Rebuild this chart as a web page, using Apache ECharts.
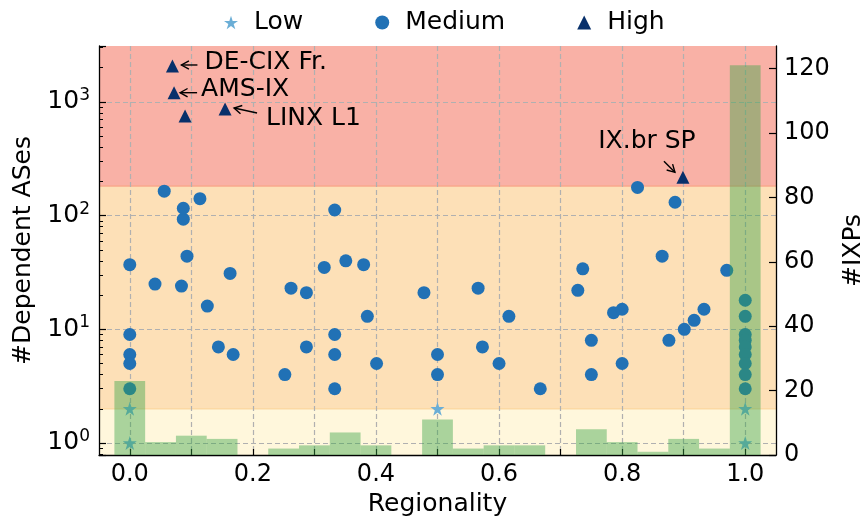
<!DOCTYPE html>
<html><head><meta charset="utf-8">
<script src="https://cdn.jsdelivr.net/npm/echarts@6/dist/echarts.min.js"></script>
<style>html,body{margin:0;padding:0;background:#fff}#c{width:866px;height:522px}</style>
</head><body><div id="c"></div>
<script>
// ---- data ----
const lowX = [0, 0, 0.5, 1, 1];
const lowY = [2, 1, 2, 2, 1];
const medX = [0, 0, 0, 0, 0,
  0.041, 0.056, 0.084, 0.087, 0.087, 0.093, 0.114, 0.126, 0.144, 0.163,
  0.168, 0.252, 0.262, 0.287, 0.287, 0.316, 0.333, 0.333, 0.333, 0.333,
  0.351, 0.380, 0.386, 0.401, 0.478, 0.5, 0.5, 0.566, 0.573, 0.600,
  0.616, 0.667, 0.728, 0.736, 0.75, 0.75, 0.786, 0.8, 0.8, 0.825,
  0.865, 0.876, 0.886, 0.901, 0.917, 0.933, 0.970,
  1, 1, 1, 1, 1, 1, 1, 1, 1];
const medY = [37, 9, 6, 5, 3,
  25, 164, 24, 93, 116, 44, 141, 16, 7, 31,
  6, 4, 23, 21, 7, 35, 112, 9, 6, 3,
  40, 37, 13, 5, 21, 6, 4, 23, 7, 5,
  13, 3, 22, 34, 8, 4, 14, 15, 5, 177,
  44, 8, 131, 10, 12, 15, 33,
  18, 13, 9, 8, 7, 6, 5, 4, 3];
const highX = [0.0693, 0.072, 0.0898, 0.1548, 0.8988];
const highY = [2070, 1205, 752, 866, 217];
const highNames = ['DE-CIX Fr.', 'AMS-IX', '', 'LINX L1', 'IX.br SP'];
const binCenters = [0, 0.05, 0.1, 0.15, 0.2, 0.25, 0.3, 0.35, 0.4, 0.45, 0.5,
  0.55, 0.6, 0.65, 0.7, 0.75, 0.8, 0.85, 0.9, 0.95, 1.0];
const binCounts = [23, 4, 6, 5, 0, 2, 3, 7, 3, 0, 11, 2, 3, 3, 0, 8, 4, 1, 5, 2, 121];
const bandEdges = [2, 182];          // Low | Medium | High thresholds
const xLimits = [-0.05, 1.05];
const yLimits = [0.784, 3103];
const y2Limits = [0, 127];
const y2TickStep = 20;

// ---- styles ----
const FONT = 'DejaVu Sans';
const C_LOW = '#6baed6', C_MED = '#2171b5', C_HIGH = '#08306b';
const BAND_COLORS = ['#fff7dc', '#fde0b7', '#f9b1a6'];
const BAR_COLOR = 'rgba(58,164,72,0.43)';
const STAR = 'path://M0,-1 L0.2245,-0.309 L0.951,-0.309 L0.363,0.118 L0.588,0.809 L0,0.382 L-0.588,0.809 L-0.363,0.118 L-0.951,-0.309 L-0.2245,-0.309 Z';
const ANNOT = {
  'DE-CIX Fr.': {t: [32, -3], align: 'left', a0: [25, -1], a1: [9, -1]},
  'AMS-IX':     {t: [27, -3], align: 'left', a0: [23, 0], a1: [6, 0]},
  'LINX L1':    {t: [41, 9.5], align: 'left', a0: [32, 4], a1: [9, -1]},
  'IX.br SP':   {t: [-36, -36], align: 'center', a0: [-19, -16], a1: [-8, -5]}
};

const zip = (xs, ys) => xs.map((x, i) => [x, ys[i]]);
const annotData = highX.map((x, i) => [x, highY[i], i]).filter(d => highNames[d[2]]);

const chart = echarts.init(document.getElementById('c'));

chart.setOption({
  animation: false,
  textStyle: {fontFamily: FONT},
  legend: {
    left: 219, top: 5,
    itemWidth: 14, itemHeight: 14, itemGap: 72,
    textStyle: {fontSize: 25, color: '#000', fontFamily: FONT, padding: [0, 0, 0, 11]},
    data: [{name: 'Low', icon: STAR}, {name: 'Medium', icon: 'circle'}, {name: 'High', icon: 'triangle'}]
  },
  grid: {left: 99, right: 90, top: 46, bottom: 67, outerBoundsMode: 'none', containLabel: false},
  xAxis: {
    type: 'value', min: xLimits[0], max: xLimits[1], splitNumber: 11, z: 1,
    name: 'Regionality', nameLocation: 'middle', nameGap: 34,
    nameTextStyle: {fontSize: 25, color: '#000', fontFamily: FONT},
    axisLine: {onZero: false, lineStyle: {color: '#000', width: 1.3}},
    axisTick: {inside: true, length: 6, lineStyle: {color: '#000', width: 1.2}},
    axisLabel: {
      fontSize: 24, color: '#000', margin: 8, fontFamily: FONT,
      showMinLabel: false, showMaxLabel: false,
      formatter: v => {
        const k = Math.round(v * 10);
        if (Math.abs(v * 10 - k) > 1e-6 || k % 2 !== 0) return '';
        return v.toFixed(1);
      }
    },
    splitLine: {show: true, showMinLine: false, showMaxLine: false,
      lineStyle: {color: '#b0b0b0', type: [5, 3], width: 1.2}}
  },
  yAxis: [{
    type: 'log', logBase: 10, min: yLimits[0], max: yLimits[1], z: 1,
    name: '#Dependent ASes', nameLocation: 'middle', nameGap: 58,
    nameTextStyle: {fontSize: 25, color: '#000', fontFamily: FONT},
    axisLine: {show: true, onZero: false, lineStyle: {color: '#000', width: 1.3}},
    axisTick: {show: true, inside: true, length: 7, lineStyle: {color: '#000', width: 1.2}},
    minorTick: {show: true, splitNumber: 9, length: 4, lineStyle: {color: '#000', width: 1}},
    axisLabel: {
      margin: 9, color: '#000',
      formatter: v => {
        const e = Math.log10(v), r = Math.round(e);
        if (Math.abs(e - r) > 1e-6) return '';
        return '{b|10}{s|' + r + '}';
      },
      rich: {
        b: {fontSize: 25, fontFamily: FONT, color: '#000', lineHeight: 30},
        s: {fontSize: 17, fontFamily: FONT, color: '#000', verticalAlign: 'top', lineHeight: 20}
      }
    },
    splitLine: {show: true, showMinLine: false, showMaxLine: false,
      lineStyle: {color: '#b0b0b0', type: [5, 3], width: 1.2}}
  }, {
    type: 'value', min: y2Limits[0], max: y2Limits[1], interval: y2TickStep, z: 1,
    position: 'right',
    name: '#IXPs', nameLocation: 'middle', nameGap: 58,
    nameTextStyle: {fontSize: 25, color: '#000', fontFamily: FONT},
    axisLine: {show: true, onZero: false, lineStyle: {color: '#000', width: 1.3}},
    axisTick: {show: true, inside: true, length: 7, lineStyle: {color: '#000', width: 1.2}},
    axisLabel: {fontSize: 24, color: '#000', margin: 8, fontFamily: FONT, showMaxLabel: false,
      formatter: v => (v % y2TickStep === 0 ? String(v) : '')},
    splitLine: {show: false}
  }],
  series: [
    { // background bands
      type: 'custom', name: 'bands', z: 0, silent: true,
      xAxisIndex: 0, yAxisIndex: 0,
      data: [[0]],
      renderItem: (params, api) => {
        const cs = params.coordSys;
        const y1 = api.coord([0, bandEdges[0]])[1];
        const y2 = api.coord([0, bandEdges[1]])[1];
        const bot = cs.y + cs.height, top = cs.y;
        return {type: 'group', children: [
          {type: 'rect', shape: {x: cs.x, y: y1, width: cs.width, height: bot - y1}, style: {fill: BAND_COLORS[0]}},
          {type: 'rect', shape: {x: cs.x, y: y2, width: cs.width, height: y1 - y2}, style: {fill: BAND_COLORS[1]}},
          {type: 'rect', shape: {x: cs.x, y: top, width: cs.width, height: y2 - top}, style: {fill: BAND_COLORS[2]}},
          {type: 'line', shape: {x1: cs.x, y1: y1, x2: cs.x + cs.width, y2: y1}, style: {stroke: '#fcd9a4', lineWidth: 1.5}},
          {type: 'line', shape: {x1: cs.x, y1: y2, x2: cs.x + cs.width, y2: y2}, style: {stroke: '#f9a88c', lineWidth: 1.5}}
        ]};
      }
    },
    {type: 'scatter', name: 'Low', data: zip(lowX, lowY), symbol: STAR, symbolSize: 14,
      itemStyle: {color: C_LOW, opacity: 1}, z: 2},
    {type: 'scatter', name: 'Medium', data: zip(medX, medY), symbol: 'circle', symbolSize: 13,
      itemStyle: {color: C_MED, opacity: 1}, z: 2},
    {type: 'scatter', name: 'High', data: zip(highX, highY), symbol: 'triangle', symbolSize: 13,
      itemStyle: {color: C_HIGH, opacity: 1}, z: 2},
    { // histogram of IXPs on right axis
      type: 'custom', name: 'hist', z: 3, silent: true,
      xAxisIndex: 0, yAxisIndex: 1,
      data: zip(binCenters, binCounts),
      encode: {x: 0, y: 1},
      renderItem: (params, api) => {
        const c = api.value(0), n = api.value(1);
        if (!n) return null;
        const w = binCenters[1] - binCenters[0];
        const p0 = api.coord([c - w / 2, n]);
        const p1 = api.coord([c + w / 2, 0]);
        return {type: 'rect', shape: {x: p0[0], y: p0[1], width: p1[0] - p0[0], height: p1[1] - p0[1]},
          style: {fill: BAR_COLOR}};
      }
    },
    { // annotations
      type: 'custom', name: 'annot', z: 4, silent: true,
      xAxisIndex: 0, yAxisIndex: 0,
      data: annotData,
      encode: {x: 0, y: 1},
      renderItem: (params, api) => {
        const p = api.coord([api.value(0), api.value(1)]);
        const name = highNames[api.value(2)];
        const o = ANNOT[name];
        const ax0 = p[0] + o.a0[0], ay0 = p[1] + o.a0[1];
        const ax1 = p[0] + o.a1[0], ay1 = p[1] + o.a1[1];
        const dx = ax1 - ax0, dy = ay1 - ay0, L = Math.hypot(dx, dy);
        const ux = dx / L, uy = dy / L, hl = 7.5, hw = 4.2;
        const bx = ax1 - ux * hl, by = ay1 - uy * hl;
        return {type: 'group', children: [
          {type: 'text', x: p[0] + o.t[0], y: p[1] + o.t[1],
            style: {text: name, fontSize: 25, fontFamily: FONT, fill: '#000', align: o.align, verticalAlign: 'middle'}},
          {type: 'line', shape: {x1: ax0, y1: ay0, x2: ax1, y2: ay1}, style: {stroke: '#000', lineWidth: 1.4}},
          {type: 'polyline', shape: {points: [[bx - uy * hw, by + ux * hw], [ax1, ay1], [bx + uy * hw, by - ux * hw]]},
            style: {stroke: '#000', lineWidth: 1.4, fill: null}}
        ]};
      }
    }
  ]
});
</script></body></html>
